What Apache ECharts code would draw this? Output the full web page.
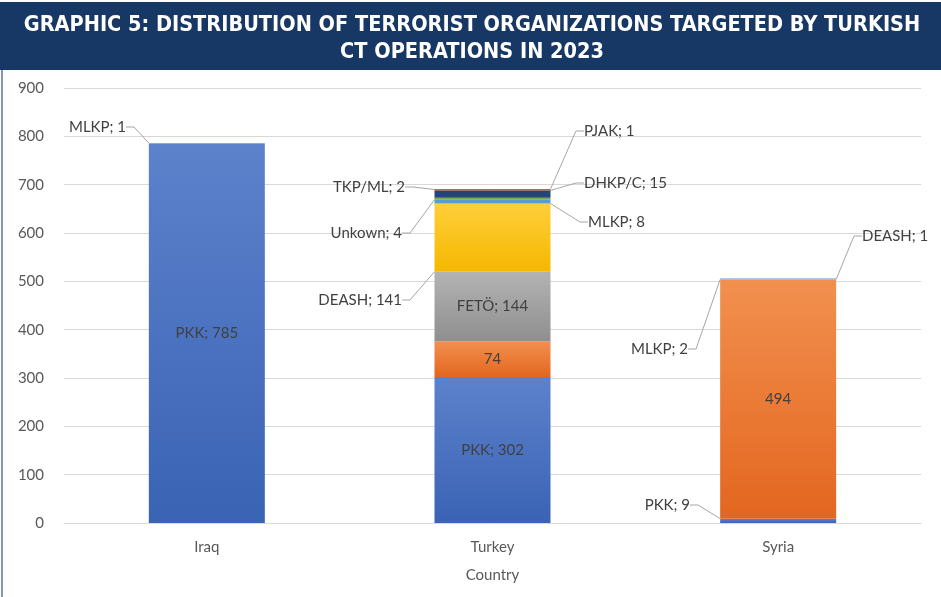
<!DOCTYPE html>
<html>
<head>
<meta charset="utf-8">
<script src="https://cdn.jsdelivr.net/npm/echarts@6/dist/echarts.min.js"></script>
<style>
  html, body { margin: 0; padding: 0; background: #fff; }
  #chart { width: 941px; height: 597px; }
</style>
</head>
<body>
<div id="chart"></div>
<script>
const categories = ['Iraq', 'Turkey', 'Syria']
const yTicks = [0, 100, 200, 300, 400, 500, 600, 700, 800, 900]

// bottom -> top stacking order
const pkk = [785, 302, 9]
const unnamed = [null, 74, 494]
const feto = [null, 144, null]
const deash = [null, 141, 1]
const mlkp = [1, 8, 2]
const unknown = [null, 4, null]
const dhkpc = [null, 15, null]
const tkpml = [null, 2, null]
const pjak = [null, 1, null]

const chart = echarts.init(document.getElementById('chart'))
const FONT = 'Lato, "Noto Sans", sans-serif'

function grad(top, bottom) {
  return new echarts.graphic.LinearGradient(0, 0, 0, 1, [
    { offset: 0, color: top },
    { offset: 1, color: bottom }
  ])
}

// where the outside labels sit (pixels), per category index
const outside = {
  MLKP: { 0: [126, 127, 'right'], 1: [588, 222, 'left'], 2: [688, 349, 'right'] },
  DEASH: { 1: [402, 300, 'right'], 2: [862, 236, 'left'] },
  Unkown: { 1: [402, 233, 'right'] },
  'DHKP/C': { 1: [584, 183, 'left'] },
  'TKP/ML': { 1: [405, 187, 'right'] },
  PJAK: { 1: [584, 131, 'left'] },
  PKK: { 2: [690, 505, 'right'] }
}

function makeSeries(name, data, color, opts) {
  opts = opts || {}
  const place = outside[name] || {}
  return {
    name: name,
    type: 'bar',
    stack: 'total',
    data: data,
    barWidth: 116,
    itemStyle: { color: color },
    label: {
      show: true,
      position: 'inside',
      fontFamily: FONT,
      fontSize: 15,
      color: '#404040',
      formatter: (p) => opts.valueOnly ? String(p.value) : p.seriesName + '; ' + p.value
    },
    labelLine: {
      show: true,
      length2: 8,
      lineStyle: { color: '#a6a6a6', width: 1 }
    },
    labelLayout: (params) => {
      const pos = place[params.dataIndex]
      if (!pos) return {}
      return { x: pos[0], y: pos[1], align: pos[2], verticalAlign: 'middle' }
    }
  }
}

const option = {
  animation: false,
  backgroundColor: '#fff',
  graphic: [
    { type: 'rect', left: 0, top: 2, shape: { width: 941, height: 68 }, style: { fill: '#173764' } },
    { type: 'rect', left: 1, top: 70, shape: { width: 2, height: 527 }, style: { fill: '#8496b0' } },
    {
      type: 'text', x: 472, y: 12,
      style: {
        text: 'GRAPHIC 5: DISTRIBUTION OF TERRORIST ORGANIZATIONS TARGETED BY TURKISH\nCT OPERATIONS IN 2023',
        fill: '#fff', font: 'bold 21.5px "DejaVu Sans Condensed", sans-serif',
        align: 'center', verticalAlign: 'top', lineHeight: 27
      }
    }
  ],
  grid: { left: 64, right: 20, top: 88, bottom: 74 },
  xAxis: {
    type: 'category',
    data: categories,
    name: 'Country',
    nameLocation: 'middle',
    nameGap: 45,
    nameTextStyle: { fontFamily: FONT, fontSize: 15, color: '#595959' },
    axisLine: { lineStyle: { color: '#d9d9d9' } },
    axisTick: { show: false },
    axisLabel: { fontFamily: FONT, fontSize: 15, color: '#595959', margin: 17 }
  },
  yAxis: {
    type: 'value',
    min: yTicks[0],
    max: yTicks[yTicks.length - 1],
    interval: 100,
    axisLine: { show: false },
    axisTick: { show: false },
    axisLabel: { fontFamily: FONT, fontSize: 15, color: '#595959', margin: 20 },
    splitLine: { lineStyle: { color: '#d9d9d9' } }
  },
  series: [
    makeSeries('PKK', pkk, grad('#5d82cc', '#3a63b4')),
    makeSeries('Other', unnamed, grad('#f2904f', '#e3661f'), { valueOnly: true }),
    makeSeries('FETÖ', feto, grad('#b3b3b3', '#8f8f8f')),
    makeSeries('DEASH', deash, grad('#ffcf3a', '#f5b800')),
    makeSeries('MLKP', mlkp, '#5b9bd5'),
    makeSeries('Unkown', unknown, '#70ad47'),
    makeSeries('DHKP/C', dhkpc, '#264478'),
    makeSeries('TKP/ML', tkpml, '#9e480e'),
    makeSeries('PJAK', pjak, '#555555')
  ]
}

chart.setOption(option)
</script>
</body>
</html>
